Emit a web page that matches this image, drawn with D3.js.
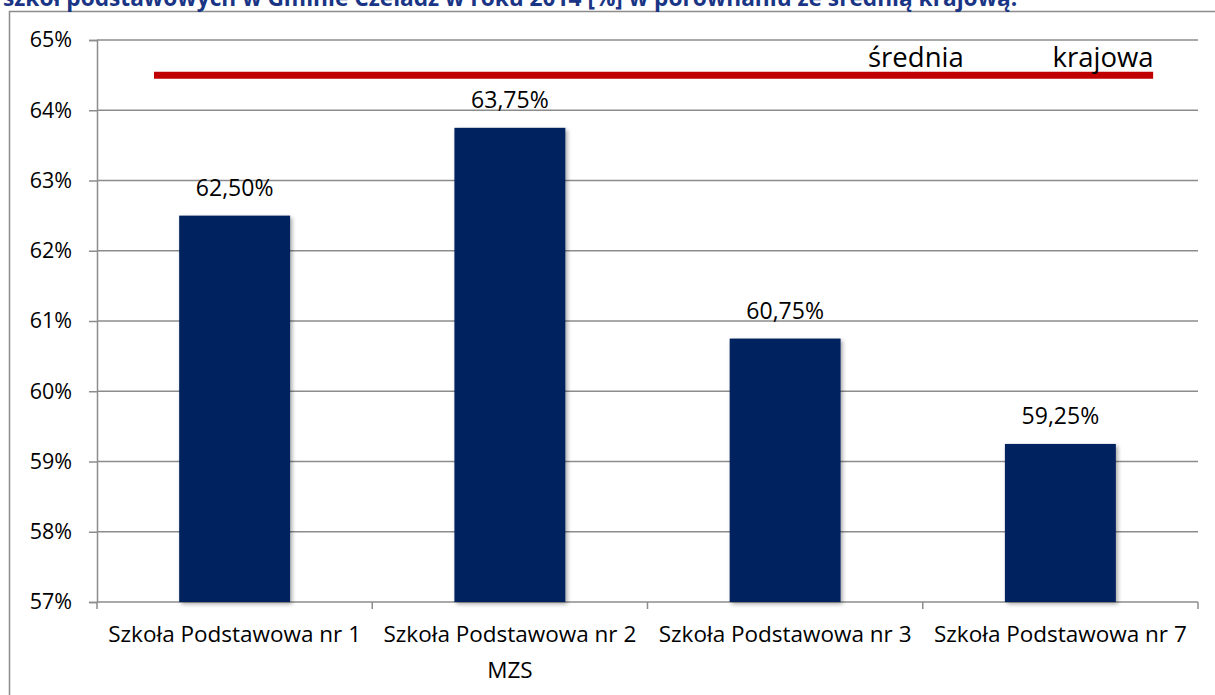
<!DOCTYPE html>
<html>
<head>
<meta charset="utf-8">
<script src="https://cdn.jsdelivr.net/npm/d3@7"></script>
<style>
  html, body { margin: 0; padding: 0; background: #fff; }
  svg { display: block; }
  text { font-family: "Open Sans", "Noto Sans", sans-serif; }
</style>
</head>
<body>
<svg id="chart" width="1215" height="695"></svg>
<script>
const titleText = "szkół podstawowych w Gminie Czeladź w roku 2014 [%] w porównaniu ze średnią krajową.";
const categories = ["Szkoła Podstawowa nr 1", "Szkoła Podstawowa nr 2|MZS", "Szkoła Podstawowa nr 3", "Szkoła Podstawowa nr 7"];
const values = [62.50, 63.75, 60.75, 59.25];
const valueLabels = ["62,50%", "63,75%", "60,75%", "59,25%"];
const yTicks = [57, 58, 59, 60, 61, 62, 63, 64, 65];
const averageValue = 64.5;
const averageSpan = [0.207, 3.837]; // in category units
const averageLabels = ["średnia", "krajowa"];
const averageLabelPos = [2.975, 3.655]; // in category units

const svg = d3.select("#chart");
const W = 1215, H = 695;
const m = { left: 97, right: 17, top: 40, bottom: 93 };
const pw = W - m.left - m.right, ph = H - m.top - m.bottom;

// outer frame
svg.append("rect").attr("x", 9.5).attr("y", 11.5).attr("width", 1220).attr("height", 700)
  .attr("fill", "none").attr("stroke", "#8c8c8c").attr("stroke-width", 1.5);

// title (clipped at top, as in the reference)
svg.append("text").attr("x", 3).attr("y", 5.5).text(titleText)
  .attr("font-size", 22.7).attr("font-weight", "bold").attr("fill", "#1a3585");

const g = svg.append("g").attr("transform", `translate(${m.left},${m.top})`);

const y = d3.scaleLinear().domain([57, 65]).range([ph, 0]);
const x = d3.scaleBand().domain(categories).range([0, pw]).paddingInner(0).paddingOuter(0);
const xl = d3.scaleLinear().domain([0, categories.length]).range([0, pw]);

// gridlines
g.append("g").selectAll("line").data(yTicks.filter(t => t > 57)).join("line")
  .attr("x1", 0).attr("x2", pw).attr("y1", d => y(d)).attr("y2", d => y(d))
  .attr("stroke", "#8c8c8c").attr("stroke-width", 1.5);

// y axis
const ya = g.append("g").call(d3.axisLeft(y).tickValues(yTicks).tickSize(8).tickPadding(17).tickFormat(d => d + "%"));
ya.select(".domain").attr("stroke", "#8c8c8c").attr("stroke-width", 1.5);
ya.selectAll(".tick line").attr("stroke", "#8c8c8c").attr("stroke-width", 1.5);
ya.selectAll(".tick text").attr("font-size", 21.5).attr("fill", "#000").attr("font-family", "Open Sans");

// x axis
const xa = g.append("g").attr("transform", `translate(0,${ph})`);
xa.append("line").attr("x1", 0).attr("x2", pw).attr("y1", 0).attr("y2", 0).attr("stroke", "#8c8c8c").attr("stroke-width", 1.5);
xa.selectAll("line.tk").data(d3.range(categories.length + 1)).join("line").attr("class", "tk")
  .attr("x1", d => xl(d)).attr("x2", d => xl(d)).attr("y1", 0).attr("y2", 7)
  .attr("stroke", "#8c8c8c").attr("stroke-width", 1.5);
const cl = xa.selectAll("text.cl").data(categories).join("text").attr("class", "cl")
  .attr("x", d => x(d) + x.bandwidth() / 2).attr("y", 40)
  .attr("text-anchor", "middle").attr("font-size", 22.5).attr("fill", "#000");
cl.each(function(d) {
  const parts = d.split("|");
  const t = d3.select(this);
  parts.forEach((p, i) => t.append("tspan").attr("x", x(d) + x.bandwidth() / 2).attr("dy", i === 0 ? 0 : 36).text(p));
});

// shadow filter
const defs = svg.append("defs");
const f = defs.append("filter").attr("id", "sh").attr("x", "-10%").attr("y", "-10%").attr("width", "130%").attr("height", "130%");
f.append("feGaussianBlur").attr("in", "SourceAlpha").attr("stdDeviation", 2);
f.append("feOffset").attr("dx", 2).attr("dy", 2).attr("result", "b");
f.append("feComponentTransfer").append("feFuncA").attr("type", "linear").attr("slope", 0.35);
const fm = f.append("feMerge"); fm.append("feMergeNode"); fm.append("feMergeNode").attr("in", "SourceGraphic");

// bars
const bw = x.bandwidth() * 0.403;
g.selectAll("rect.bar").data(values).join("rect").attr("class", "bar")
  .attr("x", (d, i) => x(categories[i]) + x.bandwidth() / 2 - bw / 2)
  .attr("y", d => y(d)).attr("width", bw).attr("height", d => ph - y(d))
  .attr("fill", "#03215e").attr("filter", "url(#sh)");

// value labels
g.selectAll("text.vl").data(values).join("text").attr("class", "vl")
  .attr("x", (d, i) => x(categories[i]) + x.bandwidth() / 2)
  .attr("y", d => y(d) - 20).attr("text-anchor", "middle")
  .attr("font-size", 23).attr("fill", "#000").text((d, i) => valueLabels[i]);

// average line
g.append("line").attr("x1", xl(averageSpan[0])).attr("x2", xl(averageSpan[1]))
  .attr("y1", y(averageValue)).attr("y2", y(averageValue))
  .attr("stroke", "#c00000").attr("stroke-width", 7);
g.selectAll("text.avg").data(averageLabels).join("text").attr("class", "avg")
  .attr("x", (d, i) => xl(averageLabelPos[i])).attr("y", y(averageValue) - 8)
  .attr("text-anchor", "middle").attr("font-size", 27.5).attr("fill", "#000").text(d => d);
</script>
</body>
</html>
